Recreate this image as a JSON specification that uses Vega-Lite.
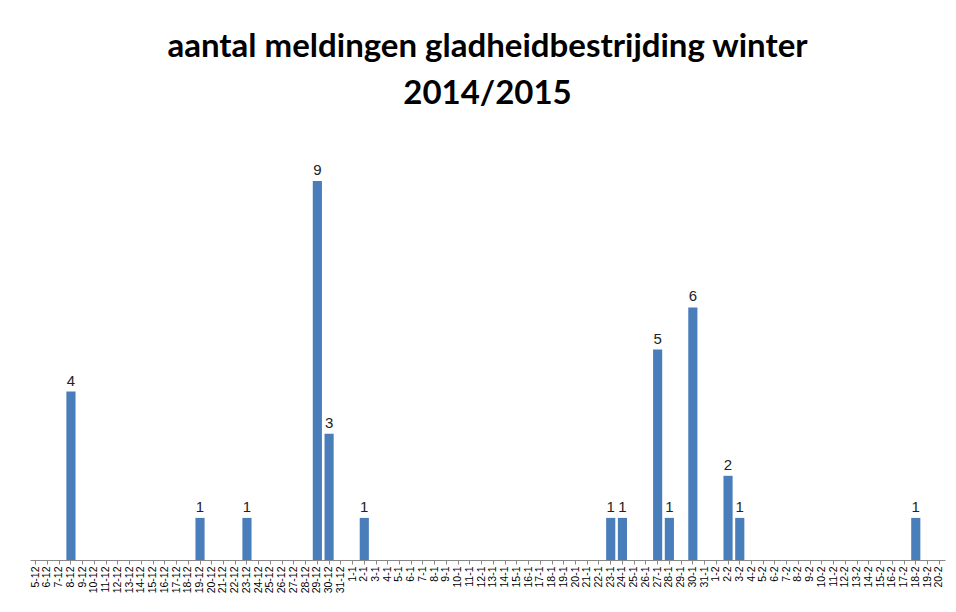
{
  "$schema": "https://vega.github.io/schema/vega-lite/v6.json",
  "width": 915,
  "height": 421,
  "padding": {"left": 30, "top": 31, "right": 11, "bottom": 0},
  "background": "white",
  "title": {
    "text": ["aantal meldingen gladheidbestrijding winter", "2014/2015"],
    "font": "Lato",
    "fontSize": 33,
    "fontWeight": "bold",
    "color": "#000000",
    "lineHeight": 47,
    "anchor": "middle",
    "offset": 28
  },
  "config": {"view": {"stroke": null}},
  "data": {
    "values": [
      {"d": "5-12", "n": 0}, {"d": "6-12", "n": 0}, {"d": "7-12", "n": 0}, {"d": "8-12", "n": 4},
      {"d": "9-12", "n": 0}, {"d": "10-12", "n": 0}, {"d": "11-12", "n": 0}, {"d": "12-12", "n": 0},
      {"d": "13-12", "n": 0}, {"d": "14-12", "n": 0}, {"d": "15-12", "n": 0}, {"d": "16-12", "n": 0},
      {"d": "17-12", "n": 0}, {"d": "18-12", "n": 0}, {"d": "19-12", "n": 1}, {"d": "20-12", "n": 0},
      {"d": "21-12", "n": 0}, {"d": "22-12", "n": 0}, {"d": "23-12", "n": 1}, {"d": "24-12", "n": 0},
      {"d": "25-12", "n": 0}, {"d": "26-12", "n": 0}, {"d": "27-12", "n": 0}, {"d": "28-12", "n": 0},
      {"d": "29-12", "n": 9}, {"d": "30-12", "n": 3}, {"d": "31-12", "n": 0},
      {"d": "1-1", "n": 0}, {"d": "2-1", "n": 1}, {"d": "3-1", "n": 0}, {"d": "4-1", "n": 0},
      {"d": "5-1", "n": 0}, {"d": "6-1", "n": 0}, {"d": "7-1", "n": 0}, {"d": "8-1", "n": 0},
      {"d": "9-1", "n": 0}, {"d": "10-1", "n": 0}, {"d": "11-1", "n": 0}, {"d": "12-1", "n": 0},
      {"d": "13-1", "n": 0}, {"d": "14-1", "n": 0}, {"d": "15-1", "n": 0}, {"d": "16-1", "n": 0},
      {"d": "17-1", "n": 0}, {"d": "18-1", "n": 0}, {"d": "19-1", "n": 0}, {"d": "20-1", "n": 0},
      {"d": "21-1", "n": 0}, {"d": "22-1", "n": 0}, {"d": "23-1", "n": 1}, {"d": "24-1", "n": 1},
      {"d": "25-1", "n": 0}, {"d": "26-1", "n": 0}, {"d": "27-1", "n": 5}, {"d": "28-1", "n": 1},
      {"d": "29-1", "n": 0}, {"d": "30-1", "n": 6}, {"d": "31-1", "n": 0},
      {"d": "1-2", "n": 0}, {"d": "2-2", "n": 2}, {"d": "3-2", "n": 1}, {"d": "4-2", "n": 0},
      {"d": "5-2", "n": 0}, {"d": "6-2", "n": 0}, {"d": "7-2", "n": 0}, {"d": "8-2", "n": 0},
      {"d": "9-2", "n": 0}, {"d": "10-2", "n": 0}, {"d": "11-2", "n": 0}, {"d": "12-2", "n": 0},
      {"d": "13-2", "n": 0}, {"d": "14-2", "n": 0}, {"d": "15-2", "n": 0}, {"d": "16-2", "n": 0},
      {"d": "17-2", "n": 0}, {"d": "18-2", "n": 1}, {"d": "19-2", "n": 0}, {"d": "20-2", "n": 0}
    ]
  },
  "encoding": {
    "x": {
      "field": "d",
      "type": "ordinal",
      "sort": null,
      "scale": {"paddingInner": 0.22, "paddingOuter": 0.1},
      "axis": {
        "title": null,
        "labelAngle": -90,
        "labelFont": "Liberation Sans",
        "labelFontSize": 10.5,
        "labelColor": "#000000",
        "labelPadding": 2,
        "domainColor": "#888888",
        "tickColor": "#888888",
        "tickSize": 4,
        "labelOverlap": false
      }
    },
    "y": {
      "field": "n",
      "type": "quantitative",
      "scale": {"domain": [0, 10]},
      "axis": null
    }
  },
  "layer": [
    {"mark": {"type": "bar", "color": "#4A7EBB"}},
    {
      "transform": [{"filter": "datum.n > 0"}],
      "mark": {"type": "text", "dy": -11, "font": "Liberation Sans", "fontSize": 15, "color": "#222222"},
      "encoding": {"text": {"field": "n", "type": "quantitative"}}
    }
  ]
}
